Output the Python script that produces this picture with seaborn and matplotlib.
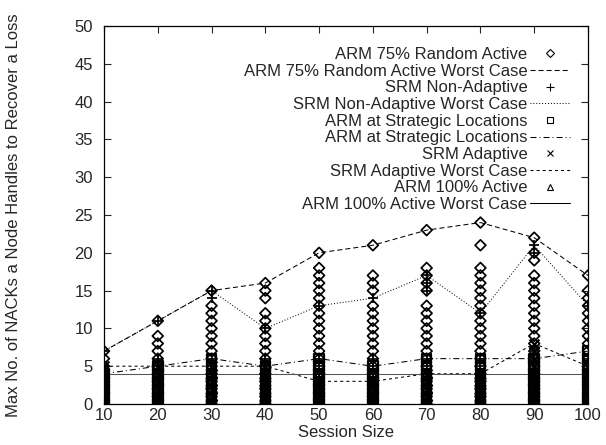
import matplotlib
matplotlib.use("Agg")
import matplotlib.pyplot as plt
import pandas as pd
import seaborn as sns
from matplotlib.lines import Line2D

# ---------------- data ----------------
session_sizes = [10, 20, 30, 40, 50, 60, 70, 80, 90, 100]

arm75_worst = [7, 11, 15, 16, 20, 21, 23, 24, 22, 17]
srm_nonadapt_worst = [7, 11, 15, 10, 13, 14, 17, 12, 21, 13]
arm_strategic_worst = [4, 5, 6, 5, 6, 5, 6, 6, 6, 7]
srm_adapt_worst = [5, 5, 5, 5, 3, 3, 4, 4, 8, 5]
arm100_worst = [4, 4, 4, 4, 4, 4, 4, 4, 4, 4]

arm75_points = [
    [0, 1, 2, 3, 4, 5, 6, 7],
    [0, 1, 2, 3, 4, 5, 6, 7, 8, 9, 11],
    [0, 1, 2, 3, 4, 5, 6, 7, 8, 9, 10, 11, 12, 13, 15],
    [0, 1, 2, 3, 4, 5, 6, 7, 8, 9, 10, 11, 12, 14, 15, 16],
    [0, 1, 2, 3, 4, 5, 6, 7, 8, 9, 10, 11, 12, 13, 14, 15, 16, 17, 18, 20],
    [0, 1, 2, 3, 4, 5, 6, 7, 8, 9, 10, 11, 12, 13, 15, 16, 17, 21],
    [0, 1, 2, 3, 4, 5, 6, 7, 8, 9, 10, 11, 12, 13, 15, 16, 17, 18, 23],
    [0, 1, 2, 3, 4, 5, 6, 7, 8, 9, 10, 11, 12, 13, 14, 15, 16, 17, 18, 21, 24],
    [0, 1, 2, 3, 4, 5, 6, 7, 8, 9, 10, 11, 12, 13, 14, 15, 16, 17, 19, 20, 22],
    [0, 1, 2, 3, 4, 5, 6, 7, 8, 9, 10, 11, 12, 13, 14, 15, 17],
]
srm_nonadapt_points = [
    [0, 1, 2, 3, 4, 5, 7],
    [0, 1, 2, 3, 4, 5, 6, 11],
    [0, 1, 2, 3, 4, 5, 6, 14, 15],
    [0, 1, 2, 3, 4, 5, 6, 10],
    [0, 1, 2, 3, 4, 5, 6, 13],
    [0, 1, 2, 3, 4, 5, 6, 14],
    [0, 1, 2, 3, 4, 5, 6, 15, 16, 17],
    [0, 1, 2, 3, 4, 5, 6, 12],
    [0, 1, 2, 3, 4, 5, 6, 7, 20, 21],
    [0, 1, 2, 3, 4, 5, 6, 13],
]
arm_strategic_points = [
    [0, 1, 2, 3, 4],
    [0, 1, 2, 3, 4, 5],
    [0, 1, 2, 3, 4, 5, 6],
    [0, 1, 2, 3, 4, 5],
    [0, 1, 2, 3, 4, 5, 6],
    [0, 1, 2, 3, 4, 5],
    [0, 1, 2, 3, 4, 5, 6],
    [0, 1, 2, 3, 4, 5, 6],
    [0, 1, 2, 3, 4, 5, 6],
    [0, 1, 2, 3, 4, 5, 6, 7],
]
srm_adapt_points = [
    [0, 1, 2, 3, 4, 5],
    [0, 1, 2, 3, 4, 5],
    [0, 1, 2, 3, 4, 5],
    [0, 1, 2, 3, 4, 5],
    [0, 1, 2, 3],
    [0, 1, 2, 3],
    [0, 1, 2, 3, 4],
    [0, 1, 2, 3, 4],
    [0, 1, 2, 3, 4, 5, 6, 7, 8],
    [0, 1, 2, 3, 4, 5],
]
arm100_points = [
    [0, 1, 2, 3, 4],
    [0, 1, 2, 3, 4],
    [0, 1, 2, 3, 4],
    [0, 1, 2, 3, 4],
    [0, 1, 2, 3, 4],
    [0, 1, 2, 3, 4],
    [0, 1, 2, 3, 4],
    [0, 1, 2, 3, 4],
    [0, 1, 2, 3, 4],
    [0, 1, 2, 3, 4],
]

labels = [
    "ARM 75% Random Active",
    "ARM 75% Random Active Worst Case",
    "SRM Non-Adaptive",
    "SRM Non-Adaptive Worst Case",
    "ARM at Strategic Locations",
    "ARM at Strategic Locations",
    "SRM Adaptive",
    "SRM Adaptive Worst Case",
    "ARM 100% Active",
    "ARM 100% Active Worst Case",
]
x_ticks = [10, 20, 30, 40, 50, 60, 70, 80, 90, 100]
y_ticks = [0, 5, 10, 15, 20, 25, 30, 35, 40, 45, 50]


def to_long(points):
    xs, ys = [], []
    for sz, vals in zip(session_sizes, points):
        for v in vals:
            xs.append(sz)
            ys.append(v)
    return pd.DataFrame({"size": xs, "value": ys})


# ---------------- styling ----------------
sns.set_style("ticks")
plt.rcParams["font.family"] = ["Liberation Sans", "DejaVu Sans"]
plt.rcParams["lines.scale_dashes"] = False
FS = 12

fig = plt.figure(figsize=(6.06, 4.45), dpi=100)
ax = fig.add_axes([104 / 606, 1 - 404 / 445, (588 - 104) / 606, (404 - 26) / 445])

LW = 0.75
MLW = 1.25
BLW = 1.6
ls_arm75 = (0, (3.6, 2.2))
ls_nonadapt = (0, (0.7, 1.4))
ls_strat = (0, (4.3, 2.2, 0.7, 2.2))
ls_adapt = (0, (2.2, 2.2))
ls_arm100 = "-"

# points
sns.scatterplot(data=to_long(arm75_points), x="size", y="value", ax=ax,
                marker="D", s=30, facecolors="none", edgecolor="k",
                linewidth=MLW, zorder=3, legend=False)
sns.scatterplot(data=to_long(srm_nonadapt_points), x="size", y="value", ax=ax,
                marker="+", s=60, color="k", linewidth=MLW, zorder=3, legend=False)
sns.scatterplot(data=to_long(arm_strategic_points), x="size", y="value", ax=ax,
                marker="s", s=48, facecolors="none", edgecolor="k",
                linewidth=BLW, zorder=3, legend=False)
sns.scatterplot(data=to_long(srm_adapt_points), x="size", y="value", ax=ax,
                marker="x", s=50, color="k", linewidth=BLW, zorder=3, legend=False)
sns.scatterplot(data=to_long(arm100_points), x="size", y="value", ax=ax,
                marker="^", s=50, facecolors="none", edgecolor="k",
                linewidth=BLW, zorder=3, legend=False)

# worst-case lines
sns.lineplot(x=session_sizes, y=arm75_worst, ax=ax, color="k", lw=LW, ls=ls_arm75, zorder=2)
sns.lineplot(x=session_sizes, y=srm_nonadapt_worst, ax=ax, color="k", lw=LW, ls=ls_nonadapt, zorder=2)
sns.lineplot(x=session_sizes, y=arm_strategic_worst, ax=ax, color="k", lw=LW, ls=ls_strat, zorder=2)
sns.lineplot(x=session_sizes, y=srm_adapt_worst, ax=ax, color="k", lw=LW, ls=ls_adapt, zorder=2)
sns.lineplot(x=session_sizes, y=arm100_worst, ax=ax, color="#555555", lw=LW, ls=ls_arm100, zorder=2)

ax.set_xlim(10, 100)
ax.set_ylim(0, 50)
ax.set_xticks(x_ticks)
ax.set_yticks(y_ticks)
ax.tick_params(direction="in", length=5, width=0.8, labelsize=FS,
               top=True, right=True)
ax.tick_params(axis="y", pad=8)
ax.tick_params(axis="x", pad=3)
for sp in ax.spines.values():
    sp.set_linewidth(0.9)
    sp.set_color("k")
ax.set_xlabel("Session Size", fontsize=FS, labelpad=1)
ax.set_ylabel("Max No. of NACKs a Node Handles to Recover a Loss", fontsize=FS, labelpad=38)
ax.grid(False)


def mk(marker, ms):
    return Line2D([], [], ls="none", marker=marker, markersize=ms, color="k",
                  markerfacecolor="none", markeredgewidth=0.8)


def ln(ls, color="k"):
    return Line2D([], [], color=color, lw=LW, ls=ls)


handles = [
    mk("D", 4.1), ln(ls_arm75),
    mk("+", 6.0), ln(ls_nonadapt),
    mk("s", 4.7), ln(ls_strat),
    mk("x", 4.7), ln(ls_adapt),
    mk("^", 4.7), ln("-", "k"),
]
leg = ax.legend(handles, labels, loc="upper right", markerfirst=False, frameon=False,
                fontsize=FS, handlelength=2.4, handletextpad=0.15, labelspacing=0.1,
                borderpad=0, borderaxespad=0,
                bbox_to_anchor=(570 / 606, 1 - 47 / 445), bbox_transform=fig.transFigure)

fig.savefig("out.png", dpi=100)
